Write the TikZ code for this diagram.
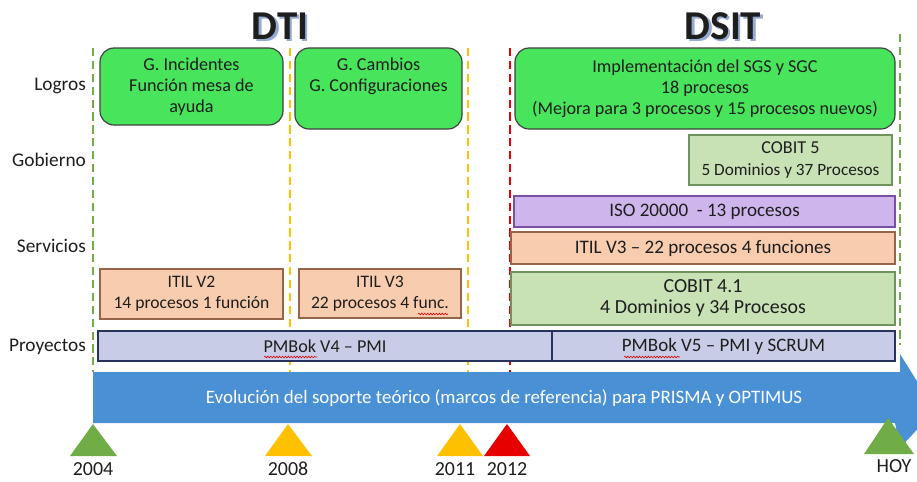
\documentclass[tikz,border=0pt]{standalone}
\usepackage{fontspec}
\setmainfont{Carlito}
\usetikzlibrary{decorations.pathmorphing}

\definecolor{hitoverde}{RGB}{112,173,71}
\definecolor{hitoamarillo}{RGB}{255,192,0}
\definecolor{hitorojo}{RGB}{230,0,0}
\definecolor{flecha}{RGB}{74,144,212}
\definecolor{logrofill}{RGB}{72,228,92}
\definecolor{cobitfill}{RGB}{200,226,182}
\definecolor{cobitdraw}{RGB}{112,146,92}
\definecolor{itilfill}{RGB}{248,204,174}
\definecolor{itildraw}{RGB}{150,100,70}
\definecolor{isofill}{RGB}{206,182,236}
\definecolor{isodraw}{RGB}{120,80,165}
\definecolor{pmbfill}{RGB}{200,204,230}
\definecolor{pmbdraw}{RGB}{40,50,95}
\definecolor{texto}{RGB}{30,30,30}
\definecolor{sombra}{RGB}{150,170,210}

\newcommand{\tam}[1]{\fontsize{#1}{18}\selectfont}
\newcommand{\consombra}[1]{\makebox[0pt][l]{\kern2pt\raisebox{-2pt}{\textcolor{sombra}{#1}}}#1}

\tikzset{
  caja/.style={draw, line width=1pt, align=center, inner sep=1pt, text=texto,
    font=\tam{15.5}},
  logro/.style={caja, fill=logrofill, draw=black!75, rounded corners=12pt},
  cobit/.style={caja, fill=cobitfill, draw=cobitdraw},
  itil/.style={caja, fill=itilfill, draw=itildraw},
  iso/.style={caja, fill=isofill, draw=isodraw},
  pmb/.style={caja, fill=pmbfill, draw=pmbdraw},
  fila/.style={anchor=east, text=texto, font=\tam{16.5}},
  anio/.style={text=texto, font=\tam{17}},
  titulo/.style={text=texto, font=\fontsize{35}{40}\selectfont\bfseries},
  hito/.style={line width=2pt, dash pattern=on 7pt off 4pt},
  corrector/.style={hitorojo, line width=0.5pt, decorate,
    decoration={snake, amplitude=0.7pt, segment length=2.5pt}}
}

\begin{document}
\begin{tikzpicture}[x=0.3mm, y=-0.3mm]
  \useasboundingbox (0,0) rectangle (917,481);

  % flecha de evolucion
  \fill[flecha] (93,372) -- (895,372) -- (895,346) -- (935,410) -- (900,448)
    -- (895,423) -- (93,423) -- cycle;
  \fill[white] (0,0) rectangle (900,372);
  \node[text=white, font=\tam{16.2}] (evol) at (504,398)
    {Evolución del soporte teórico (marcos de referencia) para PRISMA y OPTIMUS};

  % titulos
  \node[titulo] (dti) at (280,27) {\consombra{DTI}};
  \node[titulo] (dsit) at (723,27) {\consombra{DSIT}};

  % lineas de hitos
  \draw[hito, hitoverde] (93,48) -- (93,372);
  \draw[hito, hitoamarillo] (290,48) -- (290,372);
  \draw[hito, hitoamarillo] (468,48) -- (468,372);
  \draw[hito, hitorojo] (510,48) -- (510,372);
  \draw[hito, hitoverde] (900,34) -- (900,345);

  % filas
  \node[fila] (logros) at (90,86) {Logros};
  \node[fila] (gobierno) at (90,160) {Gobierno};
  \node[fila] (servicios) at (90,246) {Servicios};
  \node[fila] (proyectos) at (90,347) {Proyectos};

  % logros
  \node[logro, minimum width=54.9mm, minimum height=23.1mm] (inc) at (191.5,86.5)
    {G. Incidentes\\Función mesa de\\ayuda};
  \node[logro, minimum width=50.1mm, minimum height=24.3mm] (camb) at (378.5,88.5)
    {G. Cambios\\G. Configuraciones\\\strut};
  \node[logro, minimum width=114mm, minimum height=24.3mm] (impl) at (705,88.5)
    {Implementación del SGS y SGC\\18 procesos\\(Mejora para 3 procesos y 15 procesos nuevos)};

  % gobierno
  \node[cobit, minimum width=60.9mm, minimum height=15mm] (cobit5) at (790.5,160)
    {COBIT 5\\{\tam{14.7}5 Dominios y 37 Procesos}};

  % servicios
  \node[iso, font=\tam{16.3}, minimum width=114.3mm, minimum height=9.3mm] (iso)
    at (704.5,211.5) {ISO 20000 \ - 13 procesos};
  \node[itil, font=\tam{16.3}, minimum width=115.2mm, minimum height=9.6mm] (itil3l)
    at (703,248) {ITIL V3 -- 22 procesos 4 funciones};
  \node[cobit, font=\tam{17}, minimum width=115.2mm, minimum height=15.9mm] (cobit41)
    at (703,298.5) {COBIT 4.1\\4 Dominios y 34 Procesos};
  \node[itil, font=\tam{15}, minimum width=54.9mm, minimum height=15mm] (itil2)
    at (191.5,294) {ITIL V2\\14 procesos 1 función};
  \node[itil, font=\tam{15}, minimum width=48.6mm, minimum height=14.7mm] (itil3)
    at (380,293.5) {ITIL V3\\22 procesos 4 func.};

  % proyectos
  \node[pmb, minimum width=136.2mm, minimum height=9mm] (pmb4) at (325,346)
    {PMBok V4 -- PMI};
  \node[pmb, font=\tam{16.2}, minimum width=102.9mm, minimum height=9mm] (pmb5)
    at (723.5,346) {PMBok V5 -- PMI y SCRUM};

  \draw[corrector] (418,314) -- (448,314);
  \draw[corrector] (264,357) -- (317,357);
  \draw[corrector] (624,357) -- (680,357);

  % marcadores de tiempo
  \fill[hitoverde] (70,456) -- (93,424) -- (117,456) -- cycle;
  \fill[hitoamarillo] (265,456) -- (288,424) -- (312,456) -- cycle;
  \fill[hitoamarillo] (437,456) -- (460,424) -- (483,456) -- cycle;
  \fill[hitorojo] (484,456) -- (507,424) -- (530,456) -- cycle;
  \fill[hitoverde] (864,454) -- (888,418) -- (914,454) -- cycle;

  \node[anio] (a2004) at (93,469) {2004};
  \node[anio] (a2008) at (288,469) {2008};
  \node[anio] (a2011) at (455,469) {2011};
  \node[anio] (a2012) at (507,469) {2012};
  \node[anio] (hoy) at (894,466) {HOY};
\end{tikzpicture}
\end{document}
